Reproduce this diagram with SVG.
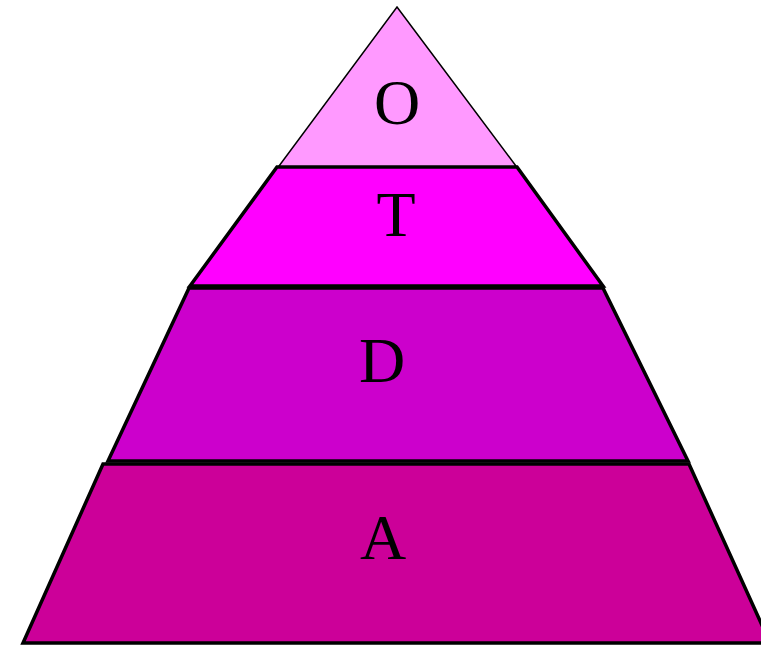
<svg xmlns="http://www.w3.org/2000/svg" width="761" height="645" viewBox="0 0 761 645">
<style>
.lbl{font-family:"Liberation Serif","Times New Roman",serif;font-size:64px;fill:#000;text-anchor:middle}
.ly{stroke:#000;stroke-width:3.5;stroke-linejoin:miter}
</style>
<rect width="761" height="645" fill="#fff"/>
<g id="layer-A">
<polygon class="ly" points="103,464 689,464 770,643 23,643" fill="#CC0099"/>
<text class="lbl" x="383" y="559">A</text>
</g>
<g id="layer-D">
<polygon class="ly" points="189,288 603,288 688,461 108,461" fill="#CC00CC"/>
<text class="lbl" x="382" y="382">D</text>
</g>
<g id="layer-T">
<polygon class="ly" points="277,167 517,167 603,286 190,286" fill="#FF00FF"/>
<text class="lbl" x="396" y="236">T</text>
</g>
<g id="layer-O">
<polygon points="397,7 516,166 279,166" fill="#FF99FF" stroke="#000" stroke-width="1.5"/>
<text class="lbl" x="397" y="124">O</text>
</g>
<g id="connectors"/>
</svg>
